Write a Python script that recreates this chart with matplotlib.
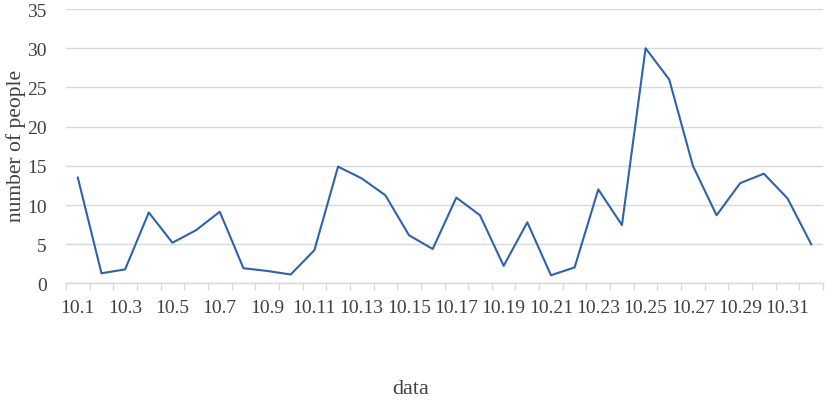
import matplotlib
matplotlib.use('Agg')
import matplotlib.pyplot as plt
import numpy as np

# daily counts, 32 categories (last one unlabeled)
dates = ['10.%d' % d for d in range(1, 32)] + ['11.1']
people = [13.5, 1.3, 1.8, 9.05, 5.2, 6.8, 9.15, 1.95, 1.6, 1.15,
          4.25, 14.9, 13.4, 11.25, 6.15, 4.4, 10.95, 8.7, 2.25, 7.8,
          1.05, 2.05, 12.0, 7.45, 30.0, 26.0, 15.0, 8.7, 12.8, 14.0,
          10.85, 5.0]
y_ticks = [0, 5, 10, 15, 20, 25, 30, 35]

plt.rcParams['font.family'] = ['Liberation Serif', 'DejaVu Serif']

fig = plt.figure(figsize=(8.29, 4.02), dpi=100)
ax = fig.add_axes([0.0796, 0.2923, 0.9132, 0.6828])

x = np.arange(len(dates))
ax.plot(x, people, color='#2E62AC', lw=1.5)

ax.set_xlim(-0.5, len(dates) - 0.5)
ax.set_ylim(0, 35)
ax.set_yticks(y_ticks)
ax.yaxis.grid(True, color='#D9D9D9', lw=1.0)
ax.set_axisbelow(True)

# labels every other category, tick marks at category boundaries
ax.set_xticks(x[::2])
ax.set_xticklabels(dates[::2][:16])
ax.set_xticks(np.arange(-0.5, len(dates) + 0.5, 1), minor=True)
ax.tick_params(axis='x', which='major', length=0, pad=11, labelsize=14, colors='#404040')
ax.tick_params(axis='x', which='minor', length=5, width=1, color='#D9D9D9')
ax.tick_params(axis='y', length=0, labelsize=14, pad=14, colors='#404040')

for s in ['top', 'right', 'left']:
    ax.spines[s].set_visible(False)
ax.spines['bottom'].set_color('#D9D9D9')
ax.spines['bottom'].set_linewidth(1.0)

fig.text(0.019, 0.637, 'number of people', rotation=90, ha='center', va='center',
         fontsize=15.5, color='#404040')
fig.text(0.495, 0.03, 'data', ha='center', va='center', fontsize=16, color='#404040')

fig.savefig('out.png', dpi=100)
